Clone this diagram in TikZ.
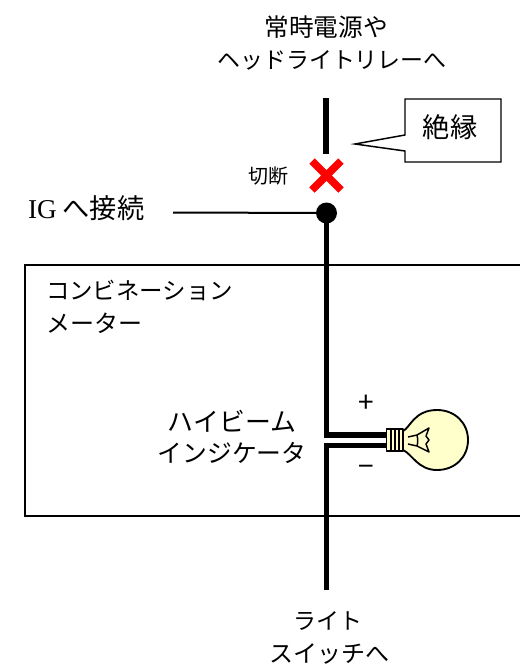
\documentclass[tikz,border=0pt]{standalone}
\usepackage{fontspec}
\setmainfont{Noto Sans CJK JP}
\newfontfamily\latinfont{Liberation Serif}
\definecolor{bulbfill}{HTML}{FFFFCC}
\tikzset{
  every node/.style={inner sep=0pt,outer sep=0pt,text=black},
  lab/.style={font=\fontsize{#1}{#1}\selectfont},
  wire/.style={line width=3.9pt,line cap=butt,line join=miter},
  thinwire/.style={line width=1.5pt},
  boxline/.style={draw=black,line width=1pt},
  redcross/.style={draw=red,line width=5.6pt,line cap=butt},
  bulbline/.style={draw=black,line width=1.4pt,line join=round}
}
\begin{document}
\begin{tikzpicture}[x=0.75pt,y=-0.75pt]
\useasboundingbox (0,0) rectangle (519,668);
% meter box
\draw[boxline] (519.5,265) -- (25,265) -- (25,516) -- (519.5,516);
\node[lab=17.6,anchor=west] (meter1) at (46,290) {コンビネーション};
\node[lab=18,anchor=west] (meter2) at (46,323) {メーター};
% top labels
\node[lab=18.5] (top1) at (326,27) {常時電源や};
\node[lab=17.2] (top2) at (332,60) {ヘッドライトリレーへ};
% wires
\coordinate (wtop) at (326,98);
\coordinate (wbreak) at (326,154);
\coordinate (wjoin) at (326.5,213);
\coordinate (wbulbU) at (326.5,435);
\coordinate (wbulbL) at (326.5,445.5);
\coordinate (wbot) at (326.5,590);
\coordinate (baseU) at (387,435);
\coordinate (baseL) at (387,445.5);
\coordinate (igend) at (173,212.5);
\draw[wire] (wtop) -- (wbreak);
\draw[wire] (wjoin) -- (wbulbU|-0,437.6) (wbulbU) ++(-2.6,0) -- (baseU);
\draw[wire] (wbot) -- (wbulbL|-0,443) (wbulbL) ++(-2.6,0) -- (baseL);
\draw[thinwire] (igend) -- (wjoin);
\fill (wjoin) circle (10.5);
% cross
\coordinate (xa) at (312,161);
\coordinate (xb) at (341,190);
\coordinate (xc) at (341,161);
\coordinate (xd) at (312,190);
\draw[redcross] (xa) -- (xb) (xc) -- (xd);
\node[lab=15] (cut) at (268,176) {切断};
% callout
\draw[boxline,fill=white,line width=1.1pt,line join=miter] (405,99) -- (501,99) -- (501,162) -- (405,162) -- (405,151) -- (355,144) -- (405,135) -- cycle;
\node[lab=20.4] (insul) at (450,127) {絶縁};
\node[lab=20.4,anchor=west] (ig) at (28,208) {{\latinfont IG} へ接続};
% indicator labels
\node[lab=19.4] (hb1) at (232,421) {ハイビーム};
\node[lab=18.6] (hb2) at (232,453) {インジケータ};
\node[lab=21] (plus) at (366,404) {+};
\node[lab=21] (minus) at (366,471) {−};
% bulb
\draw[bulbline,fill=bulbfill] (403,431) .. controls (410,428) and (414,410) .. (437,410)
  .. controls (455,410) and (468,423) .. (468,440)
  .. controls (468,457) and (455,470) .. (437,470)
  .. controls (418,470) and (412,454) .. (403,450) -- cycle;
\draw[bulbline,fill=bulbfill] (386.5,429) rectangle (403,451);
\draw[draw=black,line width=0.9pt] (391,429) -- (391,451) (395,429) -- (395,451) (399,429) -- (399,451);
\draw[draw=black,line width=1.1pt,line join=round] (408,437) -- (417,435) -- (429,428) -- (426,436) -- (429,440) -- (426,444) -- (429,452) -- (417,446) -- (408,444);
\draw[draw=black,line width=1.1pt] (417,435) .. controls (418,440) and (418,442) .. (417,446);
% bottom labels
\node[lab=17.2] (bot1) at (328,621) {ライト};
\node[lab=18] (bot2) at (329,654) {スイッチへ};
\end{tikzpicture}
\end{document}
